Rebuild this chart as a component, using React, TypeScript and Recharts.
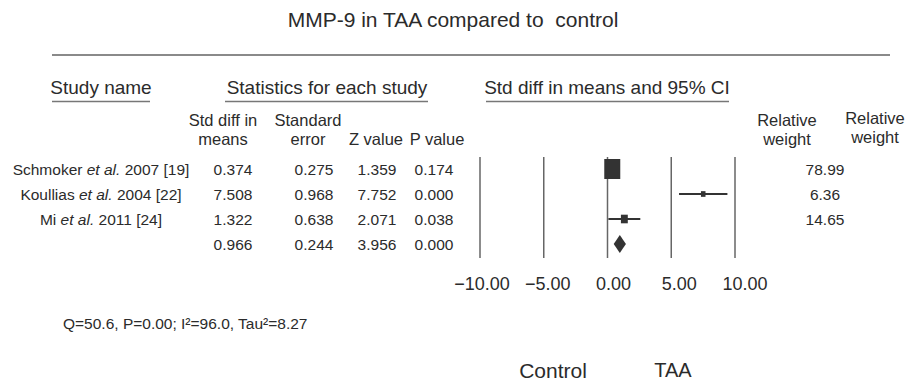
import React from "react";
import {
  ComposedChart,
  Scatter,
  XAxis,
  YAxis,
  ErrorBar,
  ReferenceLine,
  ReferenceArea,
} from "recharts";

const FONT = "'Liberation Sans', Arial, Helvetica, sans-serif";
const INK = "#2b2b2b";

// ---- data ----
const title = "MMP-9 in TAA compared to  control";
const authors = ["Schmoker", "Koullias", "Mi"];
const years = ["2007", "2004", "2011"];
const refs = ["[19]", "[22]", "[24]"];
const stdDiff = [0.374, 7.508, 1.322];
const stdErr = [0.275, 0.968, 0.638];
const zValue = [1.359, 7.752, 2.071];
const pValue = [0.174, 0.0, 0.038];
const relWeight = [78.99, 6.36, 14.65];
const summary = { stdDiff: 0.966, stdErr: 0.244, z: 3.956, p: 0.0 };
const axisTicks = [-10, -5, 0, 5, 10];
const heterogeneity = "Q=50.6, P=0.00; I\u00B2=96.0, Tau\u00B2=8.27";
const leftLabel = "Control";
const rightLabel = "TAA";

const studyData = stdDiff.map((v, i) => ({
  x: v,
  y: i,
  ci: 1.96 * stdErr[i],
  w: relWeight[i],
}));
const summaryRow = studyData.length;

// ---- layout helpers (text only) ----
const rowY = (i: number) => 169 + 25 * i;
const base = (center: number, fs: number) => center + 0.36 * fs;

const SquareShape = (props: any) => {
  const { cx, cy, payload } = props;
  if (cx == null || cy == null) return null;
  const w = 1.8 * Math.sqrt(payload.w);
  const h = w * 1.25;
  return <rect x={cx - w / 2} y={cy - h / 2} width={w} height={h} fill="#333" />;
};

const DiamondShape = (props: any) => {
  const { x, y, width, height } = props;
  if (x == null) return null;
  const cx = x + width / 2;
  const cy = y + height / 2;
  const pts = `${x},${cy} ${cx},${y} ${x + width},${cy} ${cx},${y + height}`;
  return <polygon points={pts} fill="#333" />;
};

const AxisTick = (props: any) => {
  const { x, y, payload } = props;
  const v = payload.value as number;
  const label = v < 0 ? "\u2212" + Math.abs(v).toFixed(2) : v.toFixed(2);
  return (
    <text
      x={x + 6 + v * 0.4}
      y={y + 31.5}
      textAnchor="middle"
      fontFamily={FONT}
      fontSize={18}
      fill={INK}
    >
      {label}
    </text>
  );
};

const T = ({ x, y, fs, anchor = "middle", children }: any) => (
  <text
    x={x}
    y={base(y, fs)}
    fontSize={fs}
    textAnchor={anchor}
    fontFamily={FONT}
    fill={INK}
    style={{ whiteSpace: "pre" }}
  >
    {children}
  </text>
);

const Overlay = () => {
  const fsRow = 15.5;
  const fsSub = 16.5;
  const fsHead = 19;
  return (
    <svg
      width={906}
      height={382}
      style={{ position: "absolute", left: 0, top: 0, pointerEvents: "none" }}
    >
      <T x={453} y={19} fs={21}>{title}</T>
      <line x1={52} x2={890} y1={55} y2={55} stroke="#8a8a8a" strokeWidth={2} />

      <T x={101} y={87} fs={fsHead}>Study name</T>
      <line x1={52} x2={150} y1={101.5} y2={101.5} stroke="#777" strokeWidth={1.6} />
      <T x={327} y={87} fs={fsHead}>Statistics for each study</T>
      <line x1={225} x2={428} y1={101.5} y2={101.5} stroke="#777" strokeWidth={1.6} />
      <T x={607} y={87} fs={fsHead}>Std diff in means and 95% CI</T>
      <line x1={486} x2={729} y1={101.5} y2={101.5} stroke="#777" strokeWidth={1.6} />

      <T x={223} y={120} fs={fsSub}>Std diff in</T>
      <T x={223} y={139} fs={fsSub}>means</T>
      <T x={308} y={120} fs={fsSub}>Standard</T>
      <T x={308} y={139} fs={fsSub}>error</T>
      <T x={376} y={139} fs={fsSub}>Z value</T>
      <T x={437} y={139} fs={fsSub}>P value</T>
      <T x={787} y={120} fs={fsSub}>Relative</T>
      <T x={787} y={139} fs={fsSub}>weight</T>
      <T x={875} y={118} fs={fsSub}>Relative</T>
      <T x={875} y={137} fs={fsSub}>weight</T>

      {authors.map((a, i) => (
        <g key={a}>
          <T x={101} y={rowY(i)} fs={fsRow}>
            {a} <tspan fontStyle="italic">et al.</tspan> {years[i]} {refs[i]}
          </T>
          <T x={233} y={rowY(i)} fs={fsRow}>{stdDiff[i].toFixed(3)}</T>
          <T x={314} y={rowY(i)} fs={fsRow}>{stdErr[i].toFixed(3)}</T>
          <T x={377} y={rowY(i)} fs={fsRow}>{zValue[i].toFixed(3)}</T>
          <T x={434} y={rowY(i)} fs={fsRow}>{pValue[i].toFixed(3)}</T>
          <T x={825} y={rowY(i)} fs={fsRow}>{relWeight[i].toFixed(2)}</T>
        </g>
      ))}
      <T x={233} y={rowY(summaryRow)} fs={fsRow}>{summary.stdDiff.toFixed(3)}</T>
      <T x={314} y={rowY(summaryRow)} fs={fsRow}>{summary.stdErr.toFixed(3)}</T>
      <T x={377} y={rowY(summaryRow)} fs={fsRow}>{summary.z.toFixed(3)}</T>
      <T x={434} y={rowY(summaryRow)} fs={fsRow}>{summary.p.toFixed(3)}</T>

      <T x={63} y={323} fs={15.5} anchor="start">{heterogeneity}</T>
      <T x={553} y={370} fs={21}>{leftLabel}</T>
      <T x={673} y={370} fs={20}>{rightLabel}</T>
    </svg>
  );
};

export default function App() {
  const sumLo = summary.stdDiff - 1.96 * summary.stdErr;
  const sumHi = summary.stdDiff + 1.96 * summary.stdErr;
  return (
    <div style={{ position: "absolute", left: 0, top: 0, width: 906, height: 382, background: "#fff" }}>
      <ComposedChart
        width={906}
        height={382}
        margin={{ top: 157, right: 171, bottom: 84, left: 480 }}
        style={{ position: "absolute", left: 0, top: 0 }}
      >
        <XAxis
          type="number"
          dataKey="x"
          domain={[-10, 10]}
          ticks={axisTicks}
          interval={0}
          height={40}
          axisLine={false}
          tickLine={false}
          tickSize={0}
          tickMargin={0}
          tick={<AxisTick />}
        />
        <YAxis type="number" dataKey="y" domain={[-0.48, 3.56]} reversed hide />
        {axisTicks.map((v) => (
          <ReferenceLine key={v} x={v} stroke="#666" strokeWidth={1.5} />
        ))}
        <Scatter data={studyData} shape={<SquareShape />} isAnimationActive={false}>
          <ErrorBar
            dataKey="ci"
            direction="x"
            width={0}
            stroke="#333"
            strokeWidth={2}
            isAnimationActive={false}
          />
        </Scatter>
        <ReferenceArea
          x1={sumLo}
          x2={sumHi}
          y1={summaryRow - 0.36}
          y2={summaryRow + 0.36}
          shape={<DiamondShape />}
        />
      </ComposedChart>
      <Overlay />
    </div>
  );
}
